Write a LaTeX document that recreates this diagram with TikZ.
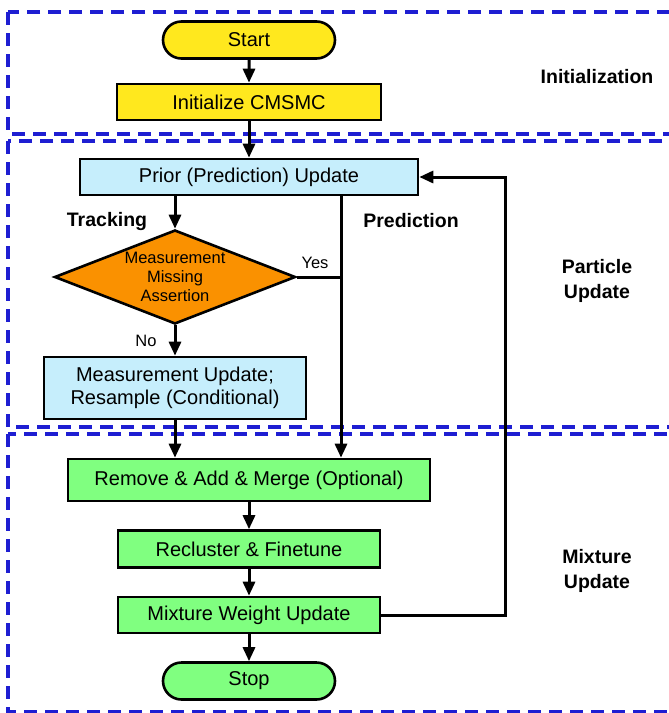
\documentclass[tikz,border=0pt]{standalone}
\usepackage{fontspec}
\setmainfont{Liberation Sans}
\usetikzlibrary{shapes.geometric,shapes.misc,arrows.meta}

\definecolor{regionblue}{RGB}{30,30,210}
\definecolor{startyellow}{RGB}{255,232,30}
\definecolor{stepblue}{RGB}{198,238,252}
\definecolor{testorange}{RGB}{250,145,0}
\definecolor{stepgreen}{RGB}{128,255,128}

\tikzset{
  region/.style={draw=regionblue,line width=3.2pt,dash pattern=on 13pt off 8pt},
  box/.style={draw,line width=2.6pt,rectangle,minimum height=36pt,inner sep=2pt,
    font=\fontsize{20}{23}\selectfont},
  terminal/.style={box,rounded rectangle,minimum width=176pt,minimum height=37pt},
  test/.style={draw,line width=2.6pt,diamond,shape aspect=2.5,inner sep=0pt,
    minimum width=241pt,minimum height=94pt,
    fill=testorange,align=center,font=\fontsize{16.5}{19}\selectfont},
  flow/.style={line width=3pt,-{Triangle[length=14pt,width=12pt]}},
  branch/.style={font=\fontsize{16.5}{19}\selectfont},
  phase/.style={font=\fontsize{19.5}{24.5}\selectfont\bfseries,align=center},
}

\begin{document}
\begin{tikzpicture}[x=1pt,y=-1pt]
  \useasboundingbox (0,0) rectangle (669,713);
  \clip (0,0) rectangle (669,713);
  % 分区虚线框
  \foreach \top/\bot in {12/134,141/427,434/712}
    \draw[region] (8,\top) rectangle (700,\bot);
  % 阶段名称
  \node[phase] (initlbl) at (597,77) {Initialization};
  \node[phase] (partlbl) at (597,281) {Particle\\Update};
  \node[phase] (mixlbl) at (597,571) {Mixture\\Update};
  % 流程节点
  \node[terminal,fill=startyellow] (start) at (249,40) {Start};
  \node[box,fill=startyellow,minimum width=264pt] (init) at (249,102) {Initialize CMSMC};
  \node[box,fill=stepblue,minimum width=338pt] (prior) at (249,177) {Prior (Prediction) Update};
  \node[test] (missing) at (175,277) {Measurement\\Missing\\Assertion};
  \node[box,fill=stepblue,minimum width=262pt,minimum height=62pt,align=center] (meas)
    at (175,388) {Measurement Update;\\Resample (Conditional)};
  \node[box,fill=stepgreen,minimum width=362pt,minimum height=42pt] (merge)
    at (249,480) {Remove \& Add \& Merge (Optional)};
  \node[box,fill=stepgreen,minimum width=262pt,minimum height=37pt] (reclust)
    at (249,549) {Recluster \& Finetune};
  \node[box,fill=stepgreen,minimum width=262pt] (weight) at (249,615) {Mixture Weight Update};
  \node[terminal,fill=stepgreen] (stop) at (249,681) {Stop};
  % 分支标注
  \node[phase] (tracklbl) at (107,221) {Tracking};
  \node[phase] (predlbl) at (411,221) {Prediction};
  \node[branch] (yes) at (315,263) {Yes};
  \node[branch] (no) at (146,341) {No};
  % 辅助坐标
  \coordinate (predx) at (341,0);
  \coordinate (loopx) at (505,0);
  % 连线
  \foreach \a/\b in {start/init,init/prior,missing/meas,merge/reclust,reclust/weight,weight/stop}
    \draw[flow] (\a) -- (\b);
  \draw[flow] (prior.south -| missing.north) -- (missing.north);
  \draw[flow] (meas.south) -- (meas.south |- merge.north);
  \draw[flow] (prior.south -| predx) -- (merge.north -| predx);
  \draw[line width=3pt] (missing.east) -- (missing.east -| predx);
  % 反馈回路
  \draw[flow] (weight.east) -- (weight.east -| loopx) -- (prior.east -| loopx) -- (prior.east);
\end{tikzpicture}
\end{document}
